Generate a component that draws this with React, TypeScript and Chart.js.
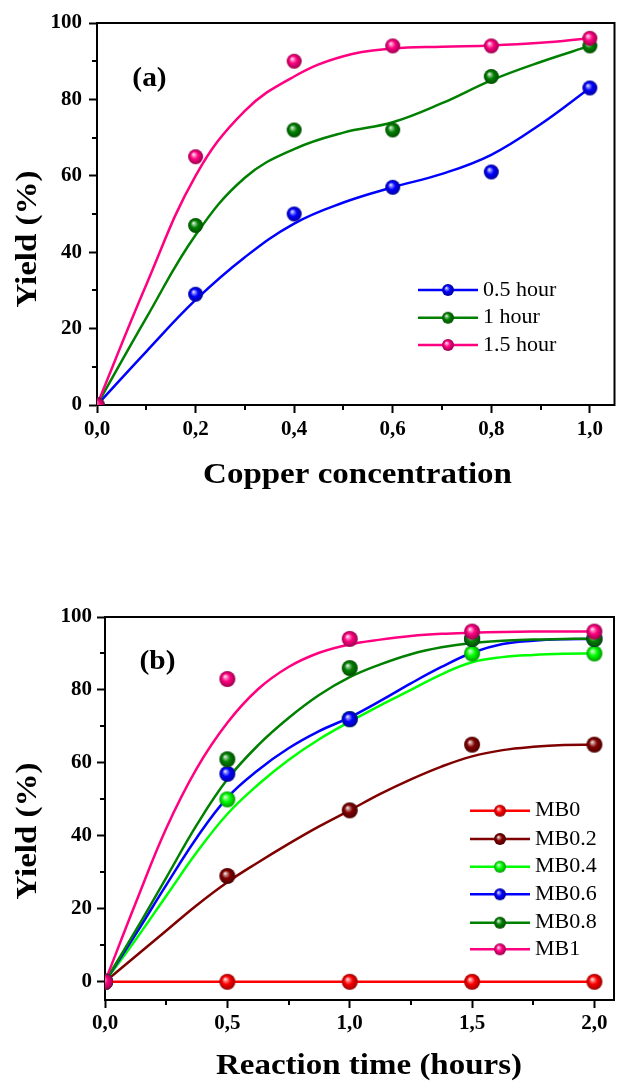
import React, { useEffect, useRef } from 'react';
import { Chart, registerables } from 'chart.js';

Chart.register(...registerables);

const SERIF = '"Liberation Serif", "Times New Roman", Times, serif';

// ---------------- Panel (a): yield vs copper concentration ----------------
const aConc = [0, 0.2, 0.4, 0.6, 0.8, 1.0];
const aYield05h = [0, 29, 50, 57, 61, 83];
const aYield1h = [0, 47, 72, 72, 86, 94];
const aYield15h = [0, 65, 90, 94, 94, 96];
const aFitConc = [0, 0.1, 0.2, 0.3, 0.4, 0.5, 0.6, 0.7, 0.8, 0.9, 1.0];
const aFit05h = [0, 14, 27.5, 38.7, 47.5, 53, 57, 60.5, 65.5, 73.5, 83];
const aFit1h = [0, 22.8, 44.5, 59.5, 67, 71.3, 74, 79, 85, 89.8, 94];
const aFit15h = [0, 31.5, 60, 77, 86, 91.3, 93.3, 93.8, 94.1, 94.8, 96];
const aSeriesNames = ['0.5 hour', '1 hour', '1.5 hour'];
const aColors = ['#0000FF', '#008000', '#FF0080'];
const aXTicks = [0, 0.2, 0.4, 0.6, 0.8, 1.0];
const aXMinorTicks = [0.1, 0.3, 0.5, 0.7, 0.9];
const aYTicks = [0, 20, 40, 60, 80, 100];
const aYMinorTicks = [10, 30, 50, 70, 90];

// ---------------- Panel (b): yield vs reaction time ----------------
const bTime = [0, 0.5, 1.0, 1.5, 2.0];
const bMB0 = [0, 0, 0, 0, 0];
const bMB02 = [0, 29, 47, 65, 65];
const bMB04 = [0, 50, 72, 90, 90];
const bMB06 = [0, 57, 72, 94, 94];
const bMB08 = [0, 61, 86, 94, 94];
const bMB1 = [0, 83, 94, 96, 96];
const bFitTime = [0, 0.125, 0.25, 0.375, 0.5, 0.625, 0.75, 0.875, 1.0, 1.125, 1.25, 1.375, 1.5, 1.625, 1.75, 1.875, 2.0];
const bFitMB0 = [0, 0, 0, 0, 0, 0, 0, 0, 0, 0, 0, 0, 0, 0, 0, 0, 0];
const bFitMB02 = [0, 7, 14, 21, 27.3, 32.7, 37.8, 42.6, 47, 51.5, 55.5, 59, 61.8, 63.5, 64.4, 64.9, 65];
const bFitMB04 = [0, 11.5, 23.5, 35.5, 46, 54, 60.8, 66.5, 71.3, 75.8, 80, 84.3, 87.6, 89, 89.6, 89.9, 90];
const bFitMB06 = [0, 13, 26.5, 39.5, 50.5, 58, 64, 68.7, 72.5, 77, 81.8, 86.3, 90.2, 92.6, 93.5, 93.9, 94];
const bFitMB08 = [0, 14, 28.5, 43, 55.5, 64.8, 72.3, 78.6, 83.5, 87, 89.8, 91.7, 92.9, 93.5, 93.8, 94, 94];
const bFitMB1 = [0, 21.5, 42, 58.5, 71, 80.2, 86.3, 90.2, 92.5, 93.8, 94.8, 95.4, 95.7, 95.9, 96, 96, 96];
const bSeriesNames = ['MB0', 'MB0.2', 'MB0.4', 'MB0.6', 'MB0.8', 'MB1'];
const bColors = ['#FF0000', '#800000', '#00FF00', '#0000FF', '#008000', '#FF0080'];
const bXTicks = [0, 0.5, 1.0, 1.5, 2.0];
const bXMinorTicks = [0.25, 0.75, 1.25, 1.75];
const bYTicks = [0, 20, 40, 60, 80, 100];
const bYMinorTicks = [10, 30, 50, 70, 90];

// ---------------- helpers ----------------
function hexToRgb(h: string): number[] {
  const n = parseInt(h.slice(1), 16);
  return [(n >> 16) & 255, (n >> 8) & 255, n & 255];
}
function mix(h: string, target: number[], t: number): string {
  const c = hexToRgb(h);
  return `rgb(${c.map((v, i) => Math.round(v + (target[i] - v) * t)).join(',')})`;
}
function sphere(color: string, r: number): HTMLCanvasElement {
  const size = Math.ceil(2 * r) + 2;
  const c = document.createElement('canvas');
  c.width = size;
  c.height = size;
  const g = c.getContext('2d')!;
  const cx = size / 2;
  const cy = size / 2;
  const grad = g.createRadialGradient(cx - r * 0.3, cy - r * 0.35, 0, cx, cy, r);
  grad.addColorStop(0, '#ffffff');
  grad.addColorStop(0.2, mix(color, [255, 255, 255], 0.55));
  grad.addColorStop(0.5, color);
  grad.addColorStop(1, mix(color, [0, 0, 0], 0.4));
  g.fillStyle = grad;
  g.beginPath();
  g.arc(cx, cy, r, 0, Math.PI * 2);
  g.fill();
  return c;
}

type Panel = {
  px: number[];
  py: number[][];
  fx: number[];
  fy: number[][];
  names: string[];
  colors: string[];
  xTicks: number[];
  xMinor: number[];
  yTicks: number[];
  yMinor: number[];
  xMin: number;
  xMax: number;
  yMin: number;
  yMax: number;
  padTop: number;
  padRight: number;
  yAxisW: number;
  xAxisH: number;
  pointR: number;
  xTitle: string;
  yTitle: string;
  xTitlePos: [number, number];
  yTitlePos: [number, number];
  tag: string;
  tagPos: [number, number];
  legendRows: number[];
  legendLine: [number, number];
  legendText: number;
  xLabelPad: number;
  yLabelPad: number;
};

function stretched(ctx: CanvasRenderingContext2D, text: string, x: number, y: number, sx: number, rotate: boolean) {
  ctx.save();
  ctx.translate(x, y);
  if (rotate) ctx.rotate(-Math.PI / 2);
  ctx.scale(sx, 1);
  ctx.textAlign = 'center';
  ctx.textBaseline = 'alphabetic';
  ctx.fillText(text, 0, 0);
  ctx.restore();
}

function decorPlugin(p: Panel) {
  const legendMarkers = p.colors.map((c) => sphere(c, 6));
  return {
    id: 'decor',
    afterDraw(chart: any) {
      const ctx: CanvasRenderingContext2D = chart.ctx;
      const a = chart.chartArea;
      const xs = chart.scales.x;
      const ys = chart.scales.y;
      ctx.save();
      // frame (top + right)
      ctx.strokeStyle = '#000';
      ctx.lineWidth = 2;
      ctx.beginPath();
      ctx.moveTo(a.left - 1, a.top);
      ctx.lineTo(a.right, a.top);
      ctx.lineTo(a.right, a.bottom + 1);
      ctx.stroke();
      // minor ticks
      ctx.beginPath();
      p.xMinor.forEach((v) => {
        const x = Math.round(xs.getPixelForValue(v));
        ctx.moveTo(x, a.bottom);
        ctx.lineTo(x, a.bottom + 5);
      });
      p.yMinor.forEach((v) => {
        const y = Math.round(ys.getPixelForValue(v));
        ctx.moveTo(a.left, y);
        ctx.lineTo(a.left - 5, y);
      });
      ctx.stroke();
      // titles
      ctx.fillStyle = '#000';
      ctx.font = `bold 30px ${SERIF}`;
      stretched(ctx, p.xTitle, p.xTitlePos[0], p.xTitlePos[1], 1.1, false);
      stretched(ctx, p.yTitle, p.yTitlePos[0], p.yTitlePos[1], 1.1, true);
      ctx.font = `bold 28px ${SERIF}`;
      stretched(ctx, p.tag, p.tagPos[0], p.tagPos[1], 1.05, false);
      // legend
      p.legendRows.forEach((y, i) => {
        ctx.strokeStyle = p.colors[i];
        ctx.lineWidth = 2.5;
        ctx.beginPath();
        ctx.moveTo(p.legendLine[0], y);
        ctx.lineTo(p.legendLine[1], y);
        ctx.stroke();
        const m = legendMarkers[i];
        const mx = (p.legendLine[0] + p.legendLine[1]) / 2;
        ctx.drawImage(m, mx - m.width / 2, y - m.height / 2);
        ctx.fillStyle = '#000';
        ctx.font = `22px ${SERIF}`;
        ctx.textAlign = 'left';
        ctx.textBaseline = 'middle';
        ctx.fillText(p.names[i], p.legendText, y);
      });
      ctx.restore();
    },
  };
}

function makeChart(canvas: HTMLCanvasElement, p: Panel) {
  const n = p.py.length;
  const datasets: any[] = [];
  p.py.forEach((ys, i) => {
    datasets.push({
      type: 'line',
      label: p.names[i] + ' fit',
      data: p.fx.map((x, k) => ({ x, y: p.fy[i][k] })),
      borderColor: p.colors[i],
      borderWidth: 2.5,
      pointRadius: 0,
      fill: false,
      tension: 0.4,
      order: 100 + (n - i),
    });
    datasets.push({
      type: 'line',
      label: p.names[i],
      data: p.px.map((x, k) => ({ x, y: ys[k] })),
      showLine: false,
      pointStyle: sphere(p.colors[i], p.pointR),
      pointRadius: p.pointR,
      borderColor: p.colors[i],
      backgroundColor: p.colors[i],
      clip: 0,
      order: n - i,
    });
  });

  const tickFont = { family: SERIF, size: 21, weight: 'bold' as const };
  const grid = {
    display: true,
    drawOnChartArea: false,
    drawTicks: true,
    tickLength: 8,
    tickWidth: 2,
    tickColor: '#000',
    color: '#000',
  };
  const border = { display: true, color: '#000', width: 2 };

  return new Chart(canvas, {
    type: 'line',
    data: { datasets },
    options: {
      animation: false,
      responsive: false,
      devicePixelRatio: 1,
      events: [],
      layout: { padding: { top: p.padTop, right: p.padRight, left: 0, bottom: 0 } },
      plugins: { legend: { display: false }, tooltip: { enabled: false } },
      scales: {
        x: {
          type: 'linear',
          min: p.xMin,
          max: p.xMax,
          afterFit: (s: any) => {
            s.height = p.xAxisH;
          },
          afterBuildTicks: (s: any) => {
            s.ticks = p.xTicks.map((v) => ({ value: v }));
          },
          grid,
          border,
          ticks: {
            color: '#000',
            font: tickFont,
            padding: p.xLabelPad,
            maxRotation: 0,
            autoSkip: false,
            callback: (v: any) => Number(v).toFixed(1).replace('.', ','),
          },
        },
        y: {
          type: 'linear',
          min: p.yMin,
          max: p.yMax,
          afterFit: (s: any) => {
            s.width = p.yAxisW;
          },
          afterBuildTicks: (s: any) => {
            s.ticks = p.yTicks.map((v) => ({ value: v }));
          },
          grid,
          border,
          ticks: {
            color: '#000',
            font: tickFont,
            padding: p.yLabelPad,
            autoSkip: false,
            callback: (v: any) => String(v),
          },
        },
      },
    } as any,
    plugins: [decorPlugin(p)],
  });
}

const panelA: Panel = {
  px: aConc,
  py: [aYield05h, aYield1h, aYield15h],
  fx: aFitConc,
  fy: [aFit05h, aFit1h, aFit15h],
  names: aSeriesNames,
  colors: aColors,
  xTicks: aXTicks,
  xMinor: aXMinorTicks,
  yTicks: aYTicks,
  yMinor: aYMinorTicks,
  xMin: 0,
  xMax: 1.05,
  yMin: 0,
  yMax: 100,
  padTop: 23,
  padRight: 6,
  yAxisW: 97,
  xAxisH: 136,
  pointR: 7.5,
  xTitle: 'Copper concentration',
  yTitle: 'Yield (%)',
  xTitlePos: [357.5, 483],
  yTitlePos: [35.5, 239],
  tag: '(a)',
  tagPos: [149.5, 86],
  legendRows: [290, 317.7, 345],
  legendLine: [418, 478],
  legendText: 483,
  xLabelPad: 4,
  yLabelPad: 7,
};

const panelB: Panel = {
  px: bTime,
  py: [bMB0, bMB02, bMB04, bMB06, bMB08, bMB1],
  fx: bFitTime,
  fy: [bFitMB0, bFitMB02, bFitMB04, bFitMB06, bFitMB08, bFitMB1],
  names: bSeriesNames,
  colors: bColors,
  xTicks: bXTicks,
  xMinor: bXMinorTicks,
  yTicks: bYTicks,
  yMinor: bYMinorTicks,
  xMin: 0,
  xMax: 2.08,
  yMin: -5,
  yMax: 100,
  padTop: 76,
  padRight: 2,
  yAxisW: 105,
  xAxisH: 82,
  pointR: 8,
  xTitle: 'Reaction time (hours)',
  yTitle: 'Yield (%)',
  xTitlePos: [369, 533],
  yTitlePos: [35.5, 290],
  tag: '(b)',
  tagPos: [157.5, 128],
  legendRows: [269.7, 298, 325.7, 353.3, 381.7, 408.3],
  legendLine: [470, 530],
  legendText: 535,
  xLabelPad: 3,
  yLabelPad: 5,
};

export default function App() {
  const refA = useRef<HTMLCanvasElement>(null);
  const refB = useRef<HTMLCanvasElement>(null);
  useEffect(() => {
    document.body.style.margin = '0';
    const ca = makeChart(refA.current!, panelA);
    const cb = makeChart(refB.current!, panelB);
    return () => {
      ca.destroy();
      cb.destroy();
    };
  }, []);
  return (
    <div style={{ position: 'absolute', left: 0, top: 0, width: 623, height: 1082, background: '#fff' }}>
      <canvas ref={refA} width={623} height={541} style={{ display: 'block', width: 623, height: 541 }} />
      <canvas ref={refB} width={623} height={541} style={{ display: 'block', width: 623, height: 541 }} />
    </div>
  );
}
